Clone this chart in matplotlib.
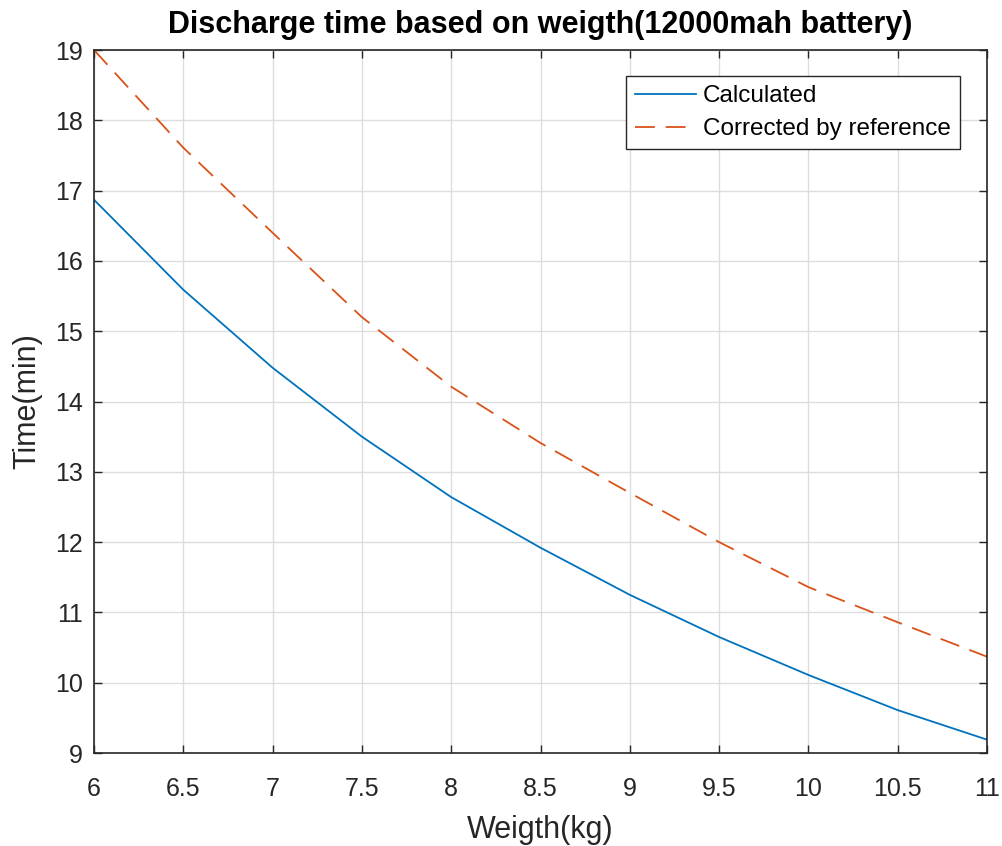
import matplotlib.pyplot as plt

plt.rcParams['font.family'] = ['Liberation Sans', 'DejaVu Sans']

weight = [6, 6.5, 7, 7.5, 8, 8.5, 9, 9.5, 10, 10.5, 11]
calculated = [16.87, 15.59, 14.48, 13.50, 12.64, 11.92, 11.25, 10.65, 10.11, 9.61, 9.19]
corrected = [19.0, 17.61, 16.40, 15.20, 14.21, 13.41, 12.70, 12.0, 11.36, 10.86, 10.37]

xticks = [6, 6.5, 7, 7.5, 8, 8.5, 9, 9.5, 10, 10.5, 11]
yticks = list(range(9, 20))

fig = plt.figure(figsize=(10.03, 8.46), dpi=100)
ax = fig.add_axes([94 / 1003, 1 - 753 / 846, (987 - 94) / 1003, (753 - 50) / 846])

ax.plot(weight, calculated, color='#0072BD', lw=1.3, label='Calculated')
ax.plot(weight, corrected, color='#D95319', lw=1.3, linestyle=(0, (11, 6)),
        label='Corrected by reference')

ax.set_xlim(6, 11)
ax.set_ylim(9, 19)
ax.set_xticks(xticks)
ax.set_xticklabels([f'{t:g}' for t in xticks])
ax.set_yticks(yticks)
ax.tick_params(direction='in', top=True, right=True, labelsize=18, length=6,
               width=1, colors='#262626')
ax.tick_params(axis='x', pad=17)
ax.tick_params(axis='y', pad=8)
ax.grid(color='#dddddd', linewidth=1)
for s in ax.spines.values():
    s.set_color('#262626')
    s.set_linewidth(1.2)

ax.set_title('Discharge time based on weigth(12000mah battery)', fontsize=22,
             fontweight='bold', pad=12)
ax.set_xlabel('Weigth(kg)', fontsize=22, color='#262626', labelpad=10)
ax.set_ylabel('Time(min)', fontsize=22, color='#262626', labelpad=9)

leg = ax.legend(loc='upper right', bbox_to_anchor=(1 - 27 / 893, 1 - 26 / 703),
                fontsize=17.5, fancybox=False, framealpha=1, edgecolor='#262626',
                borderaxespad=0, handlelength=2.5, handletextpad=0.3,
                labelspacing=0.45, borderpad=0.38)
leg.get_frame().set_linewidth(1)

fig.savefig('out.png', dpi=100)
